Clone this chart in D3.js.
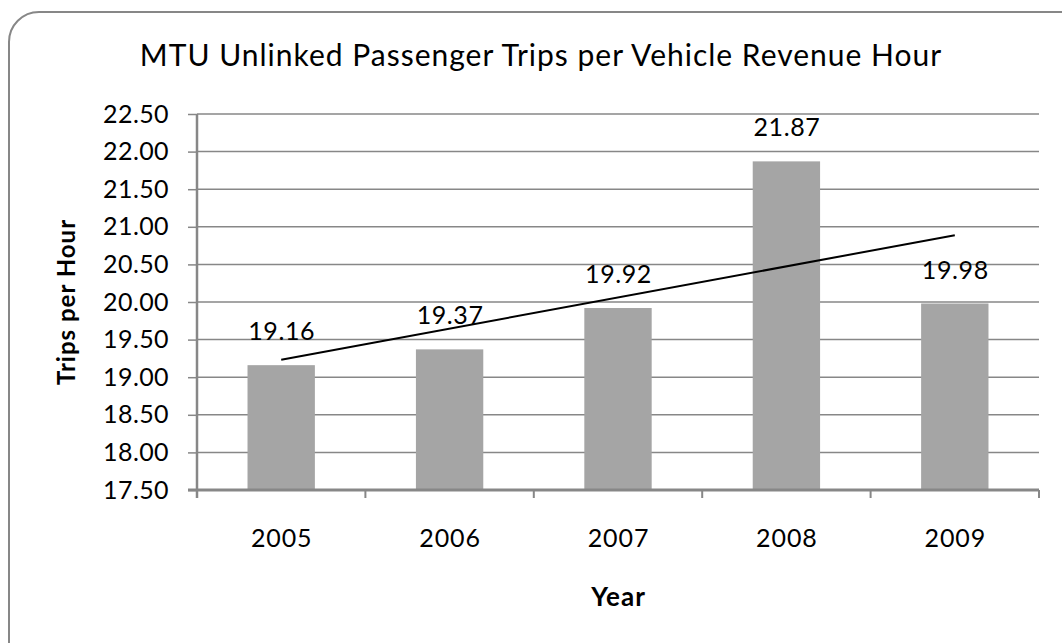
<!DOCTYPE html>
<html>
<head>
<meta charset="utf-8">
<script src="https://cdn.jsdelivr.net/npm/d3@7"></script>
<style>
  body { margin: 0; background: #fff; }
  svg { display: block; font-family: Lato, "Open Sans", sans-serif; }
</style>
</head>
<body>
<script>
var years = ['2005', '2006', '2007', '2008', '2009'];
var trips = [19.16, 19.37, 19.92, 21.87, 19.98];
var yTicks = [17.5, 18, 18.5, 19, 19.5, 20, 20.5, 21, 21.5, 22, 22.5];

var width = 1062;
var height = 643;
var margin = {top: 114, right: 23, bottom: 153, left: 197};

var svg = d3.select('body')
  .append('svg')
  .attr('width', width)
  .attr('height', height);

// chart border (runs off the right and bottom edge)
svg.append('rect')
  .attr('x', 9)
  .attr('y', 12)
  .attr('width', 1085)
  .attr('height', 665)
  .attr('rx', 30)
  .attr('ry', 30)
  .attr('fill', 'white')
  .attr('stroke', '#878787')
  .attr('stroke-width', 2);

var x = d3.scaleBand()
  .domain(years)
  .range([margin.left, width - margin.right])
  .paddingInner(0.6)
  .paddingOuter(0.3);

var xOuter = d3.scaleBand()
  .domain(years)
  .range([margin.left, width - margin.right]);

var y = d3.scaleLinear()
  .domain([17.5, 22.5])
  .range([height - margin.bottom, margin.top]);

// gridlines
svg.append('g')
  .selectAll('line')
  .data(yTicks.slice(1))
  .enter().append('line')
  .attr('x1', margin.left)
  .attr('x2', width - margin.right)
  .attr('y1', function(d) { return y(d); })
  .attr('y2', function(d) { return y(d); })
  .attr('stroke', '#878787')
  .attr('stroke-width', 1.5);

// bars
svg.append('g')
  .selectAll('rect')
  .data(trips)
  .enter().append('rect')
  .attr('x', function(d, i) { return x(years[i]); })
  .attr('y', function(d) { return y(d); })
  .attr('width', x.bandwidth())
  .attr('height', function(d) { return y(17.5) - y(d); })
  .attr('fill', '#a5a5a5');

// y axis
var yAxis = svg.append('g')
  .attr('transform', 'translate(' + margin.left + ',0)')
  .call(d3.axisLeft(y).tickValues(yTicks).tickFormat(d3.format('.2f')).tickSize(9).tickPadding(19));
yAxis.select('.domain').attr('stroke', '#878787').attr('stroke-width', 2.5).attr('d', 'M0,' + y(22.5) + 'V' + (y(17.5) + 8));
yAxis.selectAll('.tick line').attr('stroke', '#878787').attr('stroke-width', 1.5);
yAxis.selectAll('.tick text').attr('font-size', 25).attr('fill', '#000')
  .attr('font-family', 'Lato, sans-serif').attr('letter-spacing', 0.4);

// x axis
var xAxis = svg.append('g')
  .attr('transform', 'translate(0,' + y(17.5) + ')');
xAxis.append('line')
  .attr('x1', margin.left - 9)
  .attr('x2', width - margin.right)
  .attr('stroke', '#878787')
  .attr('stroke-width', 3);
xAxis.selectAll('line.tick')
  .data(years.slice(1).concat(['end']))
  .enter().append('line')
  .attr('class', 'tick')
  .attr('x1', function(d, i) { return i < years.length - 1 ? xOuter(d) : width - margin.right; })
  .attr('x2', function(d, i) { return i < years.length - 1 ? xOuter(d) : width - margin.right; })
  .attr('y1', 0)
  .attr('y2', 8)
  .attr('stroke', '#878787')
  .attr('stroke-width', 2);
xAxis.selectAll('text')
  .data(years)
  .enter().append('text')
  .attr('x', function(d) { return xOuter(d) + xOuter.bandwidth() / 2 + 0.5; })
  .attr('y', 57)
  .attr('text-anchor', 'middle')
  .attr('font-size', 25)
  .attr('letter-spacing', 0.9)
  .text(function(d) { return d; });

// linear trendline through the bar centres
var n = trips.length;
var mx = d3.mean(trips, function(d, i) { return i + 1; });
var my = d3.mean(trips);
var slope = d3.sum(trips, function(d, i) { return (i + 1 - mx) * (d - my); }) /
            d3.sum(trips, function(d, i) { return (i + 1 - mx) * (i + 1 - mx); });
var trend = [1, n].map(function(k) { return {year: years[k - 1], v: my + slope * (k - mx)}; });

svg.append('path')
  .datum(trend)
  .attr('fill', 'none')
  .attr('stroke', '#000')
  .attr('stroke-width', 2)
  .attr('d', d3.line()
    .x(function(d) { return x(d.year) + x.bandwidth() / 2; })
    .y(function(d) { return y(d.v); }));

// data labels
svg.append('g')
  .selectAll('text')
  .data(trips)
  .enter().append('text')
  .attr('x', function(d, i) { return x(years[i]) + x.bandwidth() / 2 + 0.5; })
  .attr('y', function(d) { return y(d) - 25; })
  .attr('text-anchor', 'middle')
  .attr('font-size', 25)
  .attr('letter-spacing', 0.6)
  .text(function(d) { return d.toFixed(2); });

// titles
svg.append('text')
  .attr('x', 541)
  .attr('y', 66)
  .attr('text-anchor', 'middle')
  .attr('font-size', 30)
  .attr('letter-spacing', 1)
  .text('MTU Unlinked Passenger Trips per Vehicle Revenue Hour');

svg.append('text')
  .attr('transform', 'translate(75,' + (margin.top + (height - margin.bottom - margin.top) / 2) + ') rotate(-90)')
  .attr('text-anchor', 'middle')
  .attr('font-size', 24)
  .attr('font-weight', 'bold')
  .attr('letter-spacing', 1)
  .text('Trips per Hour');

svg.append('text')
  .attr('x', (margin.left + width - margin.right) / 2 + 0.5)
  .attr('y', 606)
  .attr('text-anchor', 'middle')
  .attr('font-size', 26)
  .attr('font-weight', 'bold')
  .attr('letter-spacing', 1)
  .text('Year');
</script>
</body>
</html>
